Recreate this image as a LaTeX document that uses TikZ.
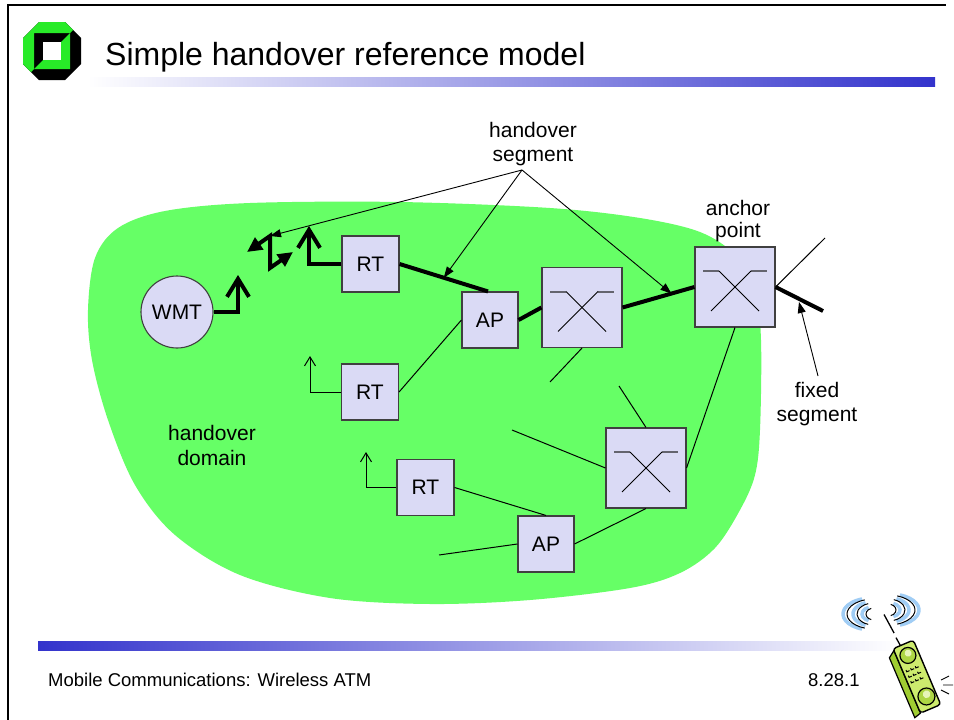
\documentclass[tikz,border=0pt]{standalone}
\usepackage{fontspec}
\setmainfont{Liberation Sans}
\usetikzlibrary{arrows.meta,calc}

\definecolor{domaingreen}{RGB}{102,255,102}
\definecolor{boxfill}{RGB}{218,218,245}
\definecolor{boxline}{RGB}{64,64,64}
\definecolor{barblue}{RGB}{51,51,204}
\definecolor{logogreen}{RGB}{40,235,40}
\definecolor{phonegreen}{RGB}{205,235,110}
\definecolor{phoneside}{RGB}{160,205,50}
\definecolor{waveblue}{RGB}{160,205,245}
\definecolor{switchbar}{RGB}{100,100,110}

% crossbar symbol drawn inside a switch box
\newcommand\xbar[1]{%
  \draw[switchbar, line width=2pt] ([shift={(-32,-16)}]#1.center) -- ([shift={(-16,-16)}]#1.center);
  \draw[switchbar, line width=2pt] ([shift={(16,-16)}]#1.center) -- ([shift={(32,-16)}]#1.center);
  \draw[line width=1pt] ([shift={(-16,-16)}]#1.center) -- ([shift={(24,24)}]#1.center);
  \draw[line width=1pt] ([shift={(16,-16)}]#1.center) -- ([shift={(-24,24)}]#1.center);
}

\begin{document}
\begin{tikzpicture}[x=1pt,y=-1pt,
  lbl/.style={font=\fontsize{21}{25}\selectfont, inner sep=0pt, anchor=base},
  unit/.style={draw=boxline, line width=1.1pt, fill=boxfill, minimum width=57pt,
    minimum height=56pt, inner sep=0pt, font=\fontsize{21}{25}\selectfont},
  switch/.style={unit, minimum width=80pt, minimum height=80pt},
  trunk/.style={line width=4pt},
  link/.style={line width=1pt},
  aerial/.style={line width=4pt},
  callout/.style={line width=0.9pt, -{Triangle[length=11pt,width=8pt]}},
]
\useasboundingbox (0,0) rectangle (954,720);
\fill[white] (0,0) rectangle (954,720);

% slide frame
\draw[line width=1.2pt] (8,720) -- (8,5) -- (946,5);

% logo
\fill[black] (39,22) -- (65,22) -- (81,38) -- (81,64) -- (65,80) -- (39,80) -- (23,64) -- (23,38) -- cycle;
\fill[logogreen] (31,72) -- (23,64) -- (23,38) -- (39,22) -- (65,22) -- (73,30)
  -- (70,33) -- (34,33) -- (34,69) -- cycle;
\fill[logogreen] (70,33) -- (70,69) -- (34,69) -- (43,60) -- (61,60) -- (61,42) -- cycle;
\fill[white] (43,42) rectangle (61,60);

% title and bars
\node[anchor=base west, inner sep=0pt, font=\fontsize{32}{38}\selectfont] (title) at (105,65)
  {Simple handover reference model};
\shade[left color=white, right color=barblue] (87,77) rectangle (935,86);
\shade[left color=barblue, right color=white] (38,641) rectangle (900,650);
\node[anchor=base west, inner sep=0pt, font=\fontsize{18.5}{22}\selectfont] (footer) at (48,686)
  {Mobile Communications: Wireless ATM};
\node[anchor=base west, inner sep=0pt, font=\fontsize{18.5}{22}\selectfont] (pageno) at (808,686)
  {8.28.1};

% handover domain
\fill[domaingreen] plot[smooth cycle, tension=0.55] coordinates {
  (88,310) (95,258) (118,228) (165,211) (250,203) (400,202) (550,208) (640,218)
  (700,232) (735,255) (755,290) (761,340) (760,430) (755,475) (740,510) (715,548)
  (680,573) (630,588) (530,600) (430,604) (330,598) (240,575) (175,535) (135,485)
  (108,420) (92,360)};

% network elements
\node[circle, draw=boxline, line width=1.1pt, fill=boxfill, minimum size=72pt, inner sep=0pt,
  font=\fontsize{21}{25}\selectfont] (wmt) at (177,312) {WMT};
\node[unit] (rt1) at (370.5,264) {RT};
\node[unit, minimum width=56pt] (ap1) at (490,320) {AP};
\node[switch] (sw1) at (582,307.5) {};
\node[switch] (anchor) at (735,287) {};
\node[unit] (rt2) at (370,392) {RT};
\node[unit] (rt3) at (425.5,487.5) {RT};
\node[unit, minimum width=56pt] (ap2) at (546,544) {AP};
\node[switch] (sw3) at (646,468) {};
\xbar{sw1}
\xbar{anchor}
\xbar{sw3}

% free ends
\coordinate (fixedend) at (823,311);
\coordinate (upstream) at (825,238);
\coordinate (sw1tail) at (550,382);
\coordinate (sw3up) at (619,386);
\coordinate (sw3left) at (512,430);
\coordinate (ap2tail) at (439,555);
\coordinate (wmtant) at (238,275);
\coordinate (rt1ant) at (309,226);
\coordinate (rt2ant) at (310,356);
\coordinate (rt3ant) at (366,452);
\coordinate (hoA) at (247,252);
\coordinate (hoTop) at (270,236);
\coordinate (hoBot) at (270,268);
\coordinate (hoB) at (293,252);
\coordinate (hosrc) at (522,170);
\coordinate (fixsrc) at (818,376);
\coordinate (fixtip) at (799,302);

% connections
\draw[trunk] (rt1.east) -- ([xshift=-2pt]ap1.north);
\draw[trunk] (ap1.east) -- (sw1.west);
\draw[trunk] (sw1.east) -- (anchor.west);
\draw[trunk] (anchor.east) -- (fixedend);
\draw[link] (anchor.east) -- (upstream);
\draw[link] (rt2.east) -- (ap1.west);
\draw[link] (sw1.south) -- (sw1tail);
\draw[link] (anchor.south) -- (sw3.east);
\draw[link] (sw3.north) -- (sw3up);
\draw[link] (sw3.west) -- (sw3left);
\draw[link] (sw3.south) -- (ap2.east);
\draw[link] (ap2.west) -- (ap2tail);
\draw[link] (rt3.east) -- (ap2.north);

% radio antennas
\draw[aerial, -{Straight Barb[length=18pt,width=22pt]}] (wmt.east) -| (wmtant);
\draw[aerial, -{Straight Barb[length=18pt,width=22pt]}] (rt1.west) -| (rt1ant);
\draw[link, -{Straight Barb[length=9pt,width=11pt]}] (rt2.west) -| (rt2ant);
\draw[link, -{Straight Barb[length=9pt,width=11pt]}] (rt3.west) -| (rt3ant);
\draw[aerial, {Triangle[length=15pt,width=14pt]}-{Triangle[length=15pt,width=14pt]}]
  (hoA) -- (hoTop) -- (hoBot) -- (hoB);

% labels
\node[lbl] (hoseg1) at (533,137) {handover};
\node[lbl] (hoseg2) at (533,161) {segment};
\node[lbl] (anc1) at (738,215) {anchor};
\node[lbl] (anc2) at (738,237) {point};
\node[lbl] (fix1) at (817,397) {fixed};
\node[lbl] (fix2) at (817,421) {segment};
\node[lbl] (dom1) at (212,440) {handover};
\node[lbl] (dom2) at (212,465) {domain};

% callouts
\draw[callout] (hosrc) -- (hoTop);
\draw[callout] (hosrc) -- ($(rt1.east)!0.5!([xshift=-2pt]ap1.north)$);
\draw[callout] (hosrc) -- ($(sw1.east)!0.68!(anchor.west)$);
\draw[callout] (fixsrc) -- (fixtip);

% handset clip art: radio waves
\foreach \rx/\ry in {10/7, 19/12, 29/16} {
  \draw[waveblue, line width=3.5pt] (872,614) ++(110:{\rx} and {\ry})
    arc[start angle=110, end angle=250, x radius=\rx, y radius=\ry];
  \draw[line width=1pt] (874,614) ++(110:{\rx-2} and {\ry-1})
    arc[start angle=110, end angle=250, x radius=\rx-2, y radius=\ry-1];
  \draw[waveblue, line width=3.5pt] (890,610) ++(-70:{\rx} and {\ry})
    arc[start angle=-70, end angle=70, x radius=\rx, y radius=\ry];
  \draw[line width=1pt] (888,610) ++(-70:{\rx-2} and {\ry-1})
    arc[start angle=-70, end angle=70, x radius=\rx-2, y radius=\ry-1];
}
% handset clip art: phone body
\begin{scope}[shift={(916,677)}, rotate=23]
  \draw[line width=1.3pt] (-2,-34) -- (-3,-44);
  \draw[line width=1.3pt] (-3,-49) -- (-5,-70);
  \fill[phoneside, draw=black, line width=1.2pt] (-10,-33) -- (-17,-28) -- (-17,37) -- (-10,35) -- cycle;
  \draw[fill=phonegreen, line width=1.4pt, rounded corners=3pt] (-10,-35) rectangle (12,35);
  \draw[fill=phoneside!70!phonegreen, line width=1.2pt] (1,-23) circle (8);
  \fill[white!50!phonegreen] (2,-25) circle (3.5);
  \foreach \yy in {-9,-3,3} \foreach \xx in {-5,0,5}
    \draw[line width=1pt] (\xx-1.5,\yy-1.2) -- (\xx-1.5,\yy+0.6) -- (\xx+1.5,\yy+0.6);
  \draw[fill=phoneside!70!phonegreen, line width=1.2pt] (2,22) circle (8.5);
  \fill[white!50!phonegreen] (3,20) circle (3.8);
\end{scope}
\draw[line width=0.9pt] (941,680) -- (949,676) (943,685) -- (953,685) (941,690) -- (949,694);

\end{tikzpicture}
\end{document}
